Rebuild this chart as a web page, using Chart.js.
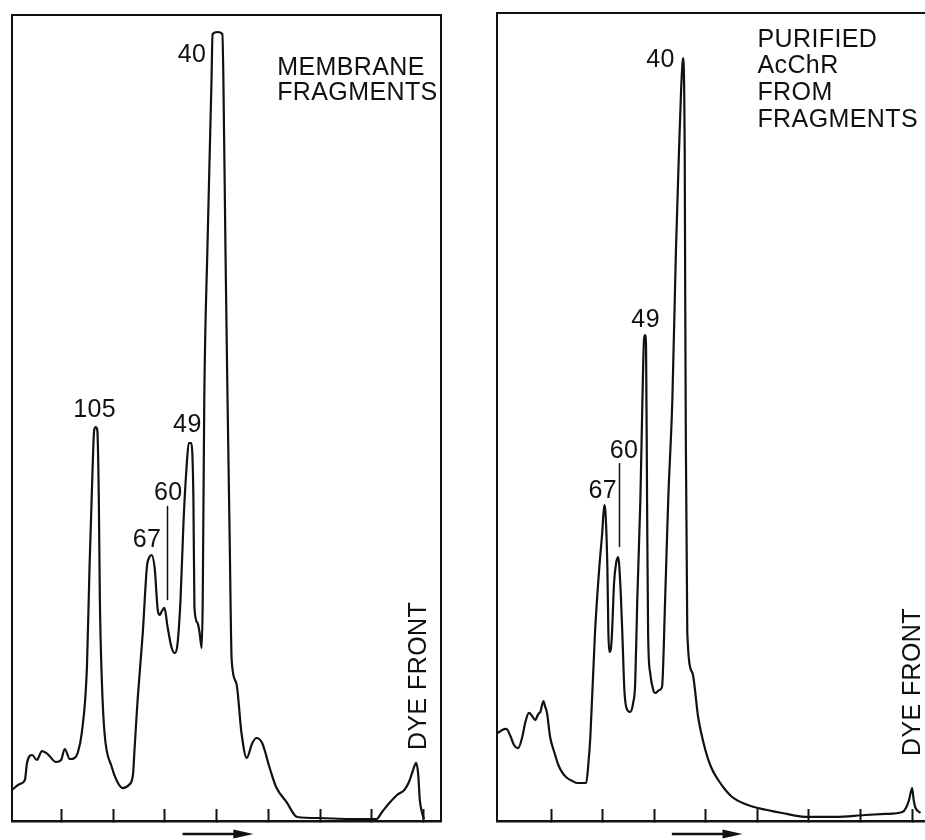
<!DOCTYPE html>
<html>
<head>
<meta charset="utf-8">
<script src="https://cdn.jsdelivr.net/npm/chart.js@4.4.1/dist/chart.umd.min.js"></script>
<style>
  body { margin: 0; background: #fff; }
  #wrap { position: relative; width: 925px; height: 840px; overflow: hidden; }
  canvas { position: absolute; top: 0; }
  #membraneChart { left: 0; }
  #purifiedChart { left: 462px; }
</style>
</head>
<body>
<div id="wrap">
  <canvas id="membraneChart" width="462" height="840"></canvas>
  <canvas id="purifiedChart" width="463" height="840"></canvas>
</div>
<script>
// gel scans: migration distance (tick units) vs absorbance (% of full scale)
const membraneX = [0.04, 0.19, 0.29, 0.33, 0.43, 0.52, 0.62, 0.73, 0.89, 0.99,
  1.06, 1.16, 1.25, 1.31, 1.39, 1.49, 1.54, 1.60, 1.63, 1.66,
  1.69, 1.72, 1.74, 1.78, 1.83, 1.97, 2.07, 2.18, 2.30, 2.38,
  2.41, 2.47, 2.57, 2.65, 2.70, 2.74, 2.80, 2.86, 2.90, 2.93,
  2.99, 3.05, 3.13, 3.19, 3.24, 3.30, 3.36, 3.42, 3.46, 3.51,
  3.55, 3.57, 3.63, 3.67, 3.71, 3.73, 3.76, 3.82, 3.90, 3.92,
  4.02, 4.11, 4.13, 4.17, 4.21, 4.25, 4.29, 4.38, 4.48, 4.58,
  4.69, 4.77, 4.88, 5.02, 5.15, 5.35, 5.56, 5.99, 6.56, 7.09,
  7.20, 7.34, 7.49, 7.63, 7.72, 7.80, 7.86, 7.90, 7.93, 7.97, 8.01];
const membraneY = [3.85, 4.59, 5.09, 7.20, 8.19, 7.57, 8.68, 8.31, 7.32, 7.57,
  8.93, 7.69, 7.82, 8.44, 10.92, 19.11, 31.51, 43.92, 48.51, 48.88,
  48.51, 39.83, 27.42, 17.12, 10.92, 6.70, 4.96, 4.09, 4.47, 5.71,
  8.81, 15.01, 23.33, 31.51, 32.75, 33.00, 31.39, 26.18, 25.56, 25.93,
  26.43, 24.07, 21.46, 20.84, 21.84, 27.42, 37.34, 44.17, 46.90, 46.90,
  39.83, 26.43, 24.57, 23.33, 21.46, 27.42, 52.23, 70.84, 91.94, 97.64,
  97.89, 97.64, 91.94, 70.84, 52.23, 35.73, 19.98, 17.12, 10.92, 7.82,
  9.68, 10.30, 9.68, 6.70, 4.22, 2.36, 0.50, 0.37, 0.25, 0.25,
  1.12, 2.23, 3.23, 3.85, 4.84, 6.33, 7.20, 5.71, 2.61, 1.12, 0.25];

const purifiedX = [-0.03, 0.05, 0.13, 0.21, 0.28, 0.36, 0.44, 0.50, 0.57, 0.63,
  0.69, 0.75, 0.79, 0.85, 0.88, 0.92, 0.98, 1.06, 1.14, 1.21,
  1.31, 1.41, 1.51, 1.68, 1.72, 1.76, 1.85, 1.93, 1.99, 2.03,
  2.05, 2.09, 2.11, 2.13, 2.16, 2.18, 2.22, 2.26, 2.30, 2.34,
  2.38, 2.42, 2.46, 2.53, 2.59, 2.63, 2.67, 2.73, 2.77, 2.80,
  2.82, 2.84, 2.86, 2.88, 2.92, 2.98, 3.02, 3.10, 3.15, 3.21,
  3.27, 3.35, 3.42, 3.48, 3.52, 3.56, 3.58, 3.59, 3.60, 3.61,
  3.64, 3.74, 3.85, 3.99, 4.10, 4.24, 4.38, 4.51, 4.76, 5.01,
  5.48, 5.98, 6.51, 7.09, 7.48, 7.81, 7.88, 7.94, 8.00, 8.03, 8.06, 8.16];
const purifiedY = [10.89, 11.26, 11.39, 10.52, 9.41, 9.03, 10.40, 12.25, 13.37, 13.00,
  12.50, 13.24, 13.49, 14.85, 14.23, 13.37, 10.40, 8.54, 6.93, 6.06,
  5.32, 4.95, 4.70, 4.70, 6.93, 10.40, 23.27, 31.06, 35.64, 39.11,
  38.49, 31.44, 23.27, 20.92, 21.41, 23.27, 29.46, 31.93, 32.67, 29.46,
  23.27, 16.21, 13.99, 13.49, 14.60, 17.08, 27.35, 39.73, 52.10, 59.53,
  60.15, 58.91, 39.73, 23.27, 18.32, 16.21, 15.84, 16.21, 16.58, 27.35,
  39.73, 52.10, 70.67, 83.04, 90.47, 94.43, 90.47, 83.04, 64.48, 49.63,
  23.27, 18.32, 12.87, 8.79, 6.68, 5.07, 3.84, 2.97, 2.10, 1.61,
  0.99, 0.50, 0.50, 0.74, 0.87, 1.11, 1.61, 2.60, 4.08, 2.60, 1.73, 0.99];

const tickPositions = [1, 2, 3, 4, 5, 6, 7, 8];

// band labels (molecular weight x 10^-3) and panel captions
const membraneLabels = [
  { text: '40', x: 3.80, y: 94.2, align: 'right' },
  { text: '105', x: 1.64, y: 50.1, align: 'center' },
  { text: '49', x: 3.71, y: 48.3, align: 'right' },
  { text: '60', x: 3.34, y: 39.8, align: 'right' },
  { text: '67', x: 2.93, y: 34.0, align: 'right' },
  { text: 'MEMBRANE', x: 5.17, y: 92.6, align: 'left' },
  { text: 'FRAGMENTS', x: 5.17, y: 89.4, align: 'left' }
];
const purifiedLabels = [
  { text: '40', x: 3.40, y: 93.3, align: 'right' },
  { text: '49', x: 3.11, y: 61.1, align: 'right' },
  { text: '60', x: 2.69, y: 44.9, align: 'right' },
  { text: '67', x: 2.28, y: 40.0, align: 'right' },
  { text: 'PURIFIED', x: 5.0, y: 95.8, align: 'left' },
  { text: 'AcChR', x: 5.0, y: 92.6, align: 'left' },
  { text: 'FROM', x: 5.0, y: 89.2, align: 'left' },
  { text: 'FRAGMENTS', x: 5.0, y: 85.9, align: 'left' }
];

const FONT = '25px "Liberation Sans", Arial, sans-serif';
const INK = '#111';

const scanText = {
  id: 'scanText',
  afterDatasetsDraw(chart, args, opts) {
    const ctx = chart.ctx;
    const xs = chart.scales.x, ys = chart.scales.y;
    ctx.save();
    ctx.fillStyle = INK;
    ctx.strokeStyle = INK;
    ctx.font = FONT;
    ctx.letterSpacing = '0.4px';
    ctx.textBaseline = 'alphabetic';
    opts.labels.forEach(l => {
      ctx.textAlign = l.align;
      ctx.fillText(l.text, xs.getPixelForValue(l.x), ys.getPixelForValue(l.y));
    });

    // DYE FRONT, reading upwards
    ctx.save();
    ctx.translate(xs.getPixelForValue(opts.dye.x), ys.getPixelForValue(opts.dye.y));
    ctx.rotate(-Math.PI / 2);
    ctx.textAlign = 'center';
    ctx.fillText('DYE FRONT', 0, 0);
    ctx.restore();

    // leader line from the "60" label down to its band
    const lx = Math.round(xs.getPixelForValue(opts.leader.x)) + 0.5;
    ctx.lineWidth = 1.5;
    ctx.beginPath();
    ctx.moveTo(lx, ys.getPixelForValue(opts.leader.y1));
    ctx.lineTo(lx, ys.getPixelForValue(opts.leader.y2));
    ctx.stroke();

    // direction of migration
    const ay = chart.chartArea.bottom + 13;
    const a0 = xs.getPixelForValue(3.34), a1 = xs.getPixelForValue(4.71);
    ctx.lineWidth = 2.5;
    ctx.beginPath();
    ctx.moveTo(a0, ay);
    ctx.lineTo(a1 - 14, ay);
    ctx.stroke();
    ctx.beginPath();
    ctx.moveTo(a1 - 20, ay - 4.5);
    ctx.lineTo(a1, ay);
    ctx.lineTo(a1 - 20, ay + 4.5);
    ctx.closePath();
    ctx.fill();
    ctx.restore();
  }
};

function frameAxis(position, show) {
  return {
    type: 'linear', position: position, display: show, min: 0, max: 1,
    ticks: { display: false },
    grid: { display: false, drawTicks: false },
    border: { display: true, color: INK, width: 2 }
  };
}

function makeScan(canvasId, xs, ys, xMin, xMax, padding, labels, dye, leader, rightEdge) {
  const points = xs.map((x, i) => ({ x: x, y: ys[i] }));
  return new Chart(document.getElementById(canvasId), {
    type: 'line',
    data: {
      datasets: [{
        data: points,
        borderColor: INK,
        borderWidth: 2.2,
        pointRadius: 0,
        fill: false,
        cubicInterpolationMode: 'monotone'
      }]
    },
    options: {
      responsive: false,
      animation: false,
      devicePixelRatio: 1,
      layout: { padding: padding },
      plugins: {
        legend: { display: false },
        tooltip: { enabled: false },
        scanText: { labels: labels, dye: dye, leader: leader }
      },
      events: [],
      scales: {
        x: {
          type: 'linear', min: xMin, max: xMax,
          afterBuildTicks: scale => { scale.ticks = tickPositions.map(v => ({ value: v })); },
          ticks: { display: false },
          grid: { display: true, drawOnChartArea: false, drawTicks: true, tickLength: -12, color: INK, tickColor: INK, tickWidth: 2 },
          border: { display: true, color: INK, width: 2.5 }
        },
        y: {
          type: 'linear', min: 0, max: 100,
          ticks: { display: false },
          grid: { display: false, drawTicks: false },
          border: { display: true, color: INK, width: 2 }
        },
        xTop: frameAxis('top', true),
        yRight: frameAxis('right', rightEdge)
      }
    },
    plugins: [scanText]
  });
}

makeScan('membraneChart', membraneX, membraneY, 0.04, 8.34,
  { left: 12, top: 15, right: 21, bottom: 19 },
  membraneLabels, { x: 8.05, y: 18.0 }, { x: 3.03, y1: 39.1, y2: 27.4 }, true);

makeScan('purifiedChart', purifiedX, purifiedY, -0.05, 8.23,
  { left: 35, top: 13, right: 1, bottom: 19 },
  purifiedLabels, { x: 8.16, y: 17.2 }, { x: 2.32, y1: 44.3, y2: 33.9 }, false);
</script>
</body>
</html>
